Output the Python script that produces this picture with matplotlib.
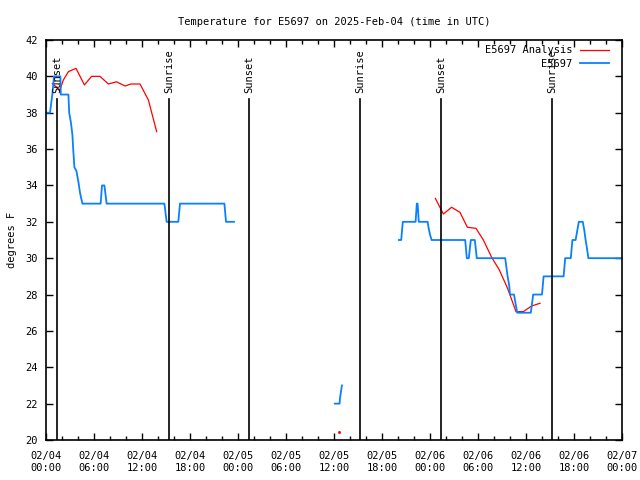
import numpy as np
import pandas as pd
import matplotlib
matplotlib.use("Agg")
import matplotlib.pyplot as plt
import matplotlib.dates as mdates

BASE = pd.Timestamp("2025-02-04 00:00")

# Observations (hours since 2025-02-04 00:00 UTC, degrees F); NaN separates gaps
obs_hours = [0.08, 0.5, 0.79, 1.0, 1.8, 1.85, 2.8, 2.9, 3.1, 3.3, 3.4, 3.55, 3.8, 4.05, 4.25, 4.55,
             6.83, 7.0, 7.3, 7.58, 14.8, 15.08, 16.54, 16.75, 22.3, 22.5, 23.5,
             np.nan,
             36.1, 36.7, 36.75, 36.85, 36.95, 37.0,
             np.nan,
             44.1, 44.4, 44.5, 44.6, 46.2, 46.35, 46.45, 46.6, 47.7, 47.85, 48.0, 48.2,
             52.4, 52.6, 52.85, 53.1, 53.6, 53.85, 57.4, 57.55, 57.7, 57.9, 58.0, 58.5,
             58.7, 58.9, 60.6, 60.9, 62.0, 62.2, 64.7, 64.9, 65.6, 65.8, 66.2, 66.6,
             67.1, 67.3, 67.45, 67.6, 67.8, 72.0]
obs_temps = [38, 38, 39, 40, 40, 39, 39, 38, 37.5, 36.8, 36, 35, 34.8, 34.2, 33.6, 33,
             33, 34, 34, 33, 33, 32, 32, 33, 33, 32, 32,
             np.nan,
             22, 22, 22.3, 22.6, 22.9, 23.0,
             np.nan,
             31, 31, 31.5, 32, 32, 33, 33, 32, 32, 31.6, 31.3, 31,
             31, 30, 30, 31, 31, 30, 30, 29.5, 29, 28.5, 28, 28,
             27.5, 27, 27, 28, 28, 29, 29, 30, 30, 31, 31, 32,
             32, 31.5, 31, 30.6, 30, 30]

# Analysis
ana_hours = [0.79, 1.33, 1.7, 2.17, 2.8, 3.75, 4.8, 5.7, 6.75, 7.8, 8.8, 9.9, 10.6, 11.75, 12.8, 13.83,
             np.nan,
             48.67, 49.67, 50.7, 51.75, 52.67, 53.75, 54.67, 55.7, 56.67, 57.7, 58.75, 59.67, 60.7, 61.75]
ana_temps = [39.6, 39.4, 39.2, 39.8, 40.26, 40.44, 39.53, 40.0, 40.0, 39.58, 39.7, 39.47, 39.58, 39.58, 38.7, 36.96,
             np.nan,
             33.29, 32.43, 32.8, 32.52, 31.7, 31.64, 31.0, 30.05, 29.35, 28.34, 27.06, 27.06, 27.37, 27.52]
ana_dot_hour = [36.67]
ana_dot_temp = [20.44]

sun_hours = [1.4, 15.4, 25.4, 39.25, 49.4, 63.25]
sun_labels = ["Sunset", "Sunrise", "Sunset", "Sunrise", "Sunset", "Sunrise"]

title = "Temperature for E5697 on 2025-Feb-04 (time in UTC)"
ylabel = "degrees F"
series_labels = ["E5697 Analysis", "E5697"]


def to_time(hours):
    return (BASE + pd.to_timedelta(np.array(hours, dtype=float), unit="h")).to_numpy()


FONT = "DejaVu Sans Mono"
FS = 7.5

fig = plt.figure(figsize=(6.4, 4.8), dpi=100)
ax = fig.add_axes([46/640, 40/480, 576/640, 400/480])

ax.plot(to_time(ana_hours), ana_temps, color="#ff0000", lw=0.9, label=series_labels[0])
ax.plot(to_time(obs_hours), obs_temps, color="#0a80ff", lw=1.3, label=series_labels[1])
ax.plot(to_time(ana_dot_hour), ana_dot_temp, color="#ff0000", marker="s", ms=1, lw=0)

for h, lab in zip(sun_hours, sun_labels):
    t = (BASE + pd.Timedelta(hours=h)).to_datetime64()
    ax.axvline(t, ymin=0, ymax=0.852, color="black", lw=1.2)
    ax.text(t, 0.868, lab, transform=ax.get_xaxis_transform(), rotation=90,
            ha="center", va="bottom", fontsize=FS, family=FONT)

ax.set_xlim(BASE.to_datetime64(), (BASE + pd.Timedelta(hours=72)).to_datetime64())
ax.set_ylim(20, 42)
ax.set_yticks(np.arange(20, 43, 2))
ax.xaxis.set_major_locator(mdates.HourLocator(byhour=range(0, 24, 6)))
ax.xaxis.set_minor_locator(mdates.HourLocator(byhour=range(0, 24, 2)))
ax.xaxis.set_major_formatter(mdates.DateFormatter("%m/%d\n%H:%M"))

ax.tick_params(which="both", direction="in", top=True, right=True, labelsize=FS, width=1)
ax.tick_params(which="major", length=5, pad=6)
ax.tick_params(axis="x", which="major", pad=8)
ax.tick_params(which="minor", length=3)
for lab in ax.get_xticklabels() + ax.get_yticklabels():
    lab.set_family(FONT)
for s in ax.spines.values():
    s.set_linewidth(1.2)

ax.set_title(title, fontsize=FS, family=FONT, pad=11)
ax.set_ylabel(ylabel, fontsize=FS, family=FONT, labelpad=6)

leg = ax.legend(loc="upper right", bbox_to_anchor=(0.985, 0.9975), frameon=False, markerfirst=False,
                prop={"family": FONT, "size": FS}, handlelength=2.8, handletextpad=0.7,
                labelspacing=0.33, borderaxespad=0)

fig.savefig("out.png", dpi=100)
